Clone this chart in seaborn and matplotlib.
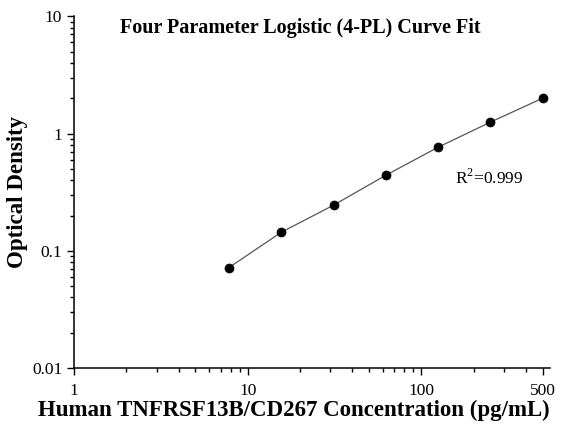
import numpy as np
import pandas as pd
import matplotlib
matplotlib.use('Agg')
import matplotlib.pyplot as plt
import matplotlib.ticker as mticker
import seaborn as sns

# standard curve data
concentration = [7.8125, 15.625, 31.25, 62.5, 125, 250, 500]
optical_density = [0.072, 0.144, 0.245, 0.441, 0.764, 1.25, 2.0]
x_ticks = [1, 10, 100, 500]
y_ticks = [0.01, 0.1, 1, 10]

df = pd.DataFrame({'conc': concentration, 'od': optical_density})

sns.set_style('ticks')
plt.rcParams['font.family'] = ['Liberation Serif', 'DejaVu Serif']
plt.rcParams['mathtext.fontset'] = 'custom'
plt.rcParams['mathtext.rm'] = 'Liberation Serif'
plt.rcParams['text.color'] = 'black'
plt.rcParams['axes.labelcolor'] = 'black'

fig = plt.figure(figsize=(5.61, 4.28), dpi=100)
ax = fig.add_axes([0.132, 0.140, 0.848, 0.822])

# fitted curve + points
sns.lineplot(data=df, x='conc', y='od', ax=ax, color='#555555', linewidth=0.9)
sns.scatterplot(data=df, x='conc', y='od', ax=ax, color='black', s=42, edgecolor='black', zorder=3)

ax.set_xscale('log')
ax.set_yscale('log')
ax.set_xlim(1, 550)
ax.set_ylim(0.01, 10)

ax.set_xticks(x_ticks)
ax.set_yticks(y_ticks)
ax.xaxis.set_major_formatter(mticker.FuncFormatter(lambda v, p: f'{v:g}'))
ax.yaxis.set_major_formatter(mticker.FuncFormatter(lambda v, p: f'{v:g}'))
ax.xaxis.set_minor_locator(mticker.LogLocator(base=10, subs=np.arange(2, 10)))
ax.yaxis.set_minor_locator(mticker.LogLocator(base=10, subs=np.arange(2, 10)))
ax.xaxis.set_minor_formatter(mticker.NullFormatter())
ax.yaxis.set_minor_formatter(mticker.NullFormatter())

ax.tick_params(which='major', direction='out', length=5, width=1, labelsize=12.5, colors='black')
ax.tick_params(which='minor', direction='out', length=3, width=1, colors='black')
ax.tick_params(axis='x', pad=6)

sns.despine(ax=ax)
for s in ['left', 'bottom']:
    ax.spines[s].set_linewidth(1.1)
    ax.spines[s].set_color('black')

ax.set_xlabel('Human TNFRSF13B/CD267 Concentration (pg/mL)', fontsize=16.5, fontweight='bold')
ax.xaxis.set_label_coords(0.462, -0.09)
ax.set_ylabel('Optical Density', fontsize=16.5, fontweight='bold', labelpad=3)

fig.text(0.535, 0.935, 'Four Parameter Logistic (4-PL) Curve Fit', ha='center', va='center',
         fontsize=14.5, fontweight='bold')
ax.text(0.80, 0.54, r'R$^2$=0.999', transform=ax.transAxes, fontsize=12.5, ha='left', va='center')

fig.savefig('out.png', dpi=100)
